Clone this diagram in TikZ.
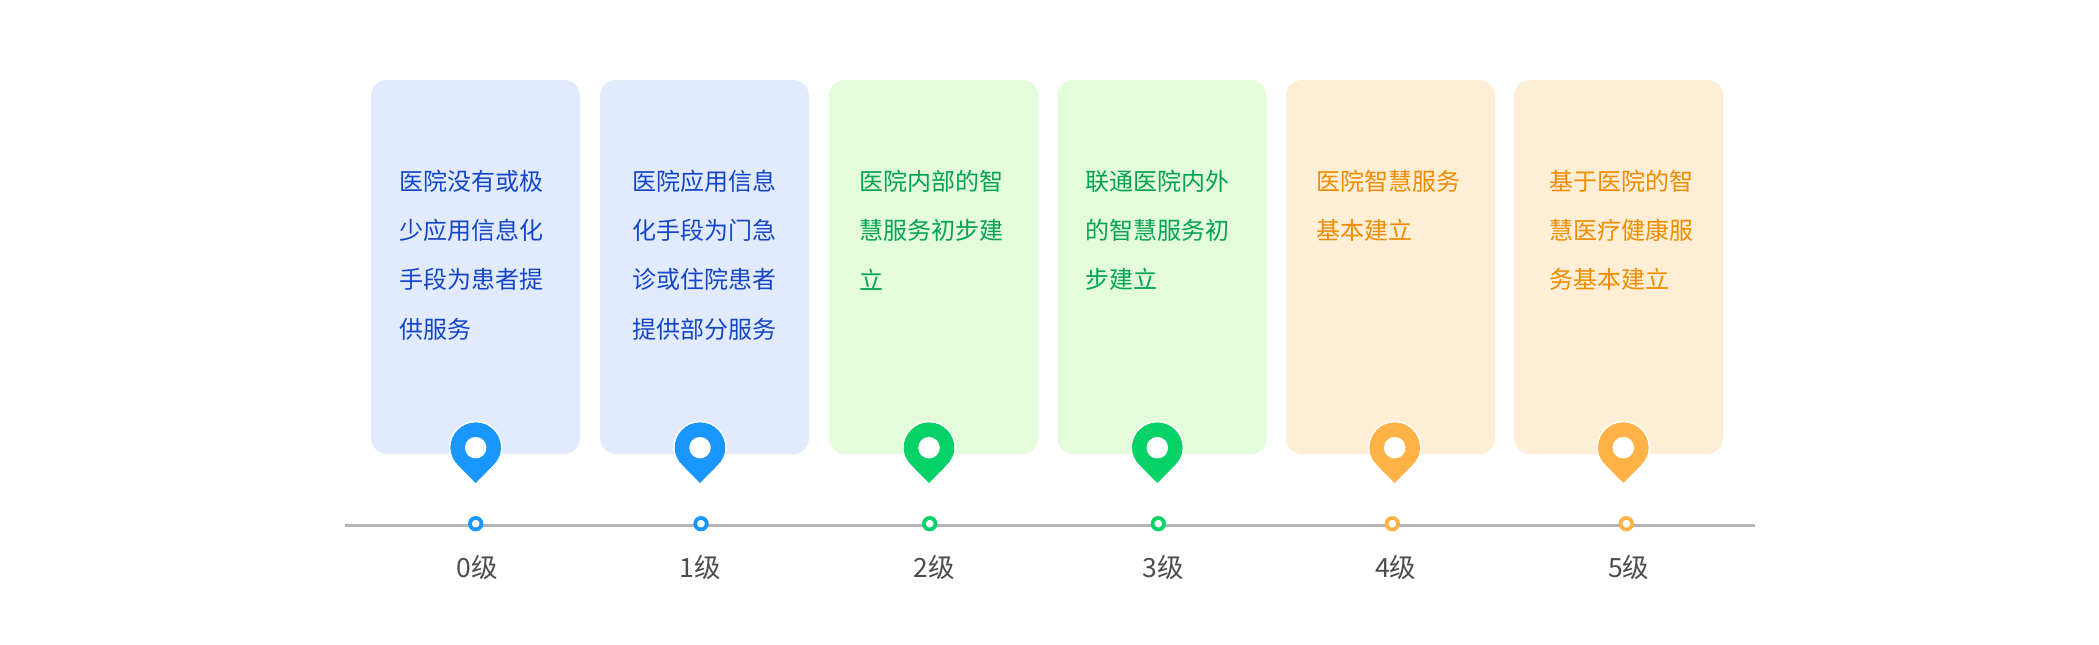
\documentclass[tikz,border=0pt]{standalone}
\usepackage{fontspec}
\setmainfont{Noto Sans CJK SC}
\definecolor{bluebg}{HTML}{E2EBFE}
\definecolor{greenbg}{HTML}{E3FCD9}
\definecolor{orangebg}{HTML}{FFEED6}
\definecolor{bluemain}{HTML}{1A96FF}
\definecolor{greenmain}{HTML}{06D268}
\definecolor{orangemain}{HTML}{FFB347}
\definecolor{bluetext}{HTML}{1446C8}
\definecolor{greentext}{HTML}{05A355}
\definecolor{orangetext}{HTML}{F08C00}
\definecolor{axisgrey}{HTML}{B4B4B4}
\definecolor{labelgrey}{HTML}{4D4D4D}
\tikzset{
  x=1pt,y=-1pt,
  cardbox/.style={fill=#1,draw=none,rounded corners=16pt},
  cardtext/.style={anchor=west,inner sep=0pt,text=#1,font=\fontsize{24}{24}\selectfont},
  lvl/.style={anchor=center,inner sep=0pt,text=labelgrey,font=\fontsize{26.5}{26.5}\selectfont},
  ringdot/.style={circle,draw=#1,fill=white,line width=3.8pt,minimum size=11.5pt,inner sep=0pt},
  pinhole/.style={circle,fill=white,draw=none,minimum size=21.5pt,inner sep=0pt},
}
\newcommand{\pinpath}[3]{%
  \fill[#3,draw=white,line width=1.6pt,line join=miter] (#1-26,#2) arc[start angle=180,end angle=360,radius=26]
    .. controls (#1+26,#2+7) and (#1+23,#2+13) .. (#1+18,#2+18)
    -- (#1,#2+36) -- (#1-18,#2+18)
    .. controls (#1-23,#2+13) and (#1-26,#2+7) .. (#1-26,#2) -- cycle;
  \fill[#3] (#1-25.2,#2) arc[start angle=180,end angle=360,radius=25.2]
    .. controls (#1+25.2,#2+7) and (#1+22.4,#2+12.6) .. (#1+17.5,#2+17.5)
    -- (#1,#2+35.3) -- (#1-17.5,#2+17.5)
    .. controls (#1-22.4,#2+12.6) and (#1-25.2,#2+7) .. (#1-25.2,#2) -- cycle;
}
\begin{document}
\begin{tikzpicture}
\useasboundingbox (0,0) rectangle (2099,645);
\fill[white] (0,0) rectangle (2099,645);
% cards
\fill[cardbox=bluebg]   (371,80) rectangle (580,454);
\fill[cardbox=bluebg]   (600,80) rectangle (809,454);
\fill[cardbox=greenbg]  (829,80) rectangle (1038,454);
\fill[cardbox=greenbg]  (1057.5,80) rectangle (1266.5,454);
\fill[cardbox=orangebg] (1286,80) rectangle (1495,454);
\fill[cardbox=orangebg] (1514,80) rectangle (1723,454);
% axis
\coordinate (axisL) at (345,525.7);
\coordinate (axisR) at (1755,525.7);
\draw[axisgrey,line width=2.6pt] (axisL) -- (axisR);
% card text
\foreach \tx/\ty/\tc/\tt in {
 399/181/bluetext/医院没有或极, 399/230/bluetext/少应用信息化, 399/279.5/bluetext/手段为患者提, 399/329.5/bluetext/供服务,
 632/181/bluetext/医院应用信息, 632/230/bluetext/化手段为门急, 632/279.5/bluetext/诊或住院患者, 632/329.5/bluetext/提供部分服务,
 859/181/greentext/医院内部的智, 859/230/greentext/慧服务初步建, 859/279.5/greentext/立,
 1085/181/greentext/联通医院内外, 1085/230/greentext/的智慧服务初, 1085/279.5/greentext/步建立,
 1316.5/181/orangetext/医院智慧服务, 1316.5/230/orangetext/基本建立,
 1549/181/orangetext/基于医院的智, 1549/230/orangetext/慧医疗健康服, 1549/279.5/orangetext/务基本建立}
 {\node[cardtext=\tc] at (\tx,\ty) {\tt};}
% pins
\foreach \px/\pc/\nm in {475.7/bluemain/a,700/bluemain/b,929/greenmain/c,1157.3/greenmain/d,1394.7/orangemain/e,1623.3/orangemain/f}{
  \pinpath{\px}{447.7}{\pc}
  \node[pinhole] (hole\nm) at (\px,447.7) {};
}
% dots
\foreach \dx/\dc/\nm in {475.7/bluemain/a,701/bluemain/b,929.7/greenmain/c,1158.3/greenmain/d,1392.3/orangemain/e,1626.3/orangemain/f}{
  \node[ringdot=\dc] (dot\nm) at (\dx,523.7) {};
}
% labels
\foreach \lx/\lt/\nm in {477/0级/a,700/1级/b,934.5/2级/c,1163/3级/d,1395.8/4级/e,1628.7/5级/f}{
  \node[lvl] (lab\nm) at (\lx,567.7) {\lt};
}
\end{tikzpicture}
\end{document}
